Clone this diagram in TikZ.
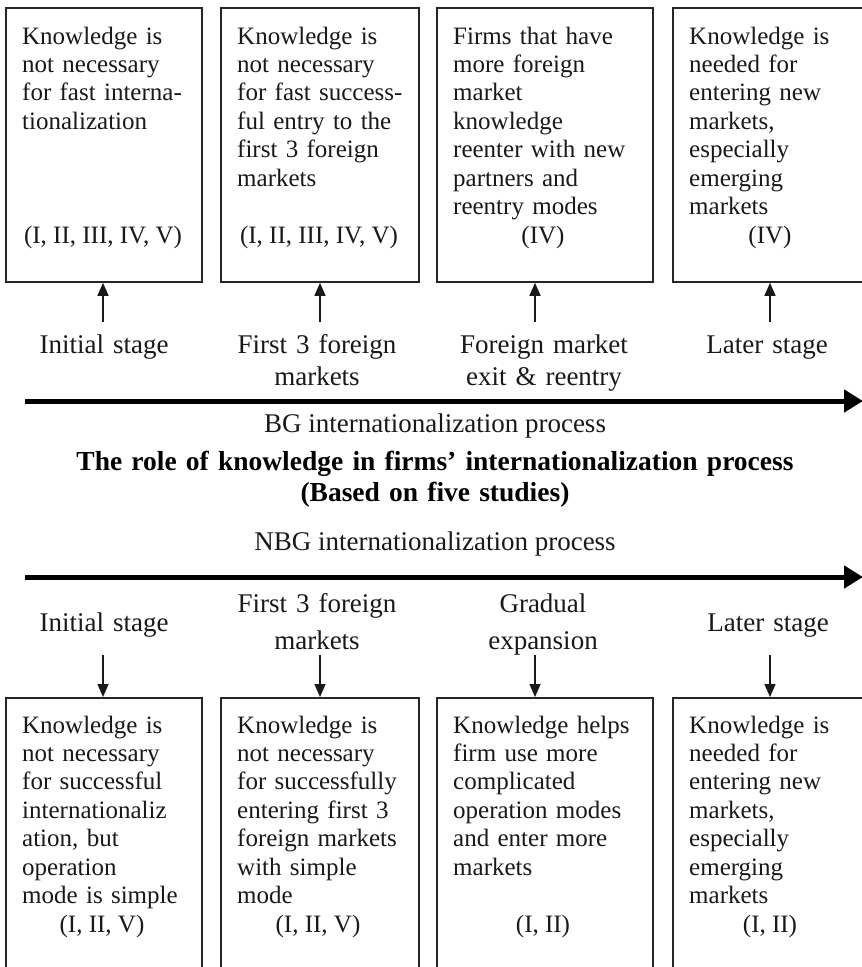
\documentclass[tikz,border=0pt]{standalone}
\usepackage{fontspec}
\setmainfont{Liberation Serif}
\usetikzlibrary{arrows.meta}

\tikzset{
  panel/.style={draw=black!85, line width=1.8pt, anchor=north west, inner sep=0pt},
  boxtext/.style={anchor=base west, inner sep=0pt, text width=205pt, align=left,
                  font=\fontsize{25}{28.4}\selectfont, text=black!90},
  cite/.style={anchor=base, inner sep=0pt, font=\fontsize{25}{28.4}\selectfont, text=black!90},
  stagetop/.style={anchor=base, inner sep=0pt, text width=220pt, align=center,
                   font=\fontsize{27}{32}\selectfont, text=black!90},
  stagebot/.style={anchor=base, inner sep=0pt, text width=220pt, align=center,
                   font=\fontsize{27}{37}\selectfont, text=black!90},
  caption/.style={anchor=base, inner sep=0pt, font=\fontsize{27}{31}\selectfont, text=black!90},
  headline/.style={anchor=base, inner sep=0pt, text width=800pt, align=center,
                   font=\fontsize{27.5}{31}\selectfont\bfseries, text=black},
  pointer/.style={line width=1.5pt, draw=black!90, -{Triangle[length=13pt,width=11pt]}},
  timeline/.style={line width=5pt, draw=black, -{Triangle[length=19pt,width=22pt]}},
}

\begin{document}
\begin{tikzpicture}[x=1pt, y=-1pt]
\useasboundingbox (0,0) rectangle (862,967);
\clip (0,0) rectangle (862,967);
\fill[white] (0,0) rectangle (862,967);

% ---------- born-global panels (top row) ----------
\node[panel, minimum width=196pt, minimum height=274pt] (tb1) at (5,7) {};
\node[panel, minimum width=198pt, minimum height=274pt] (tb2) at (220,7) {};
\node[panel, minimum width=216pt, minimum height=274pt] (tb3) at (436,7) {};
\node[panel, minimum width=198pt, minimum height=274pt] (tb4) at (672,7) {};

\node[boxtext] (tt1) at (22,44) {Knowledge is\\not necessary\\for fast interna-\\tionalization};
\node[boxtext] (tt2) at (237,44) {Knowledge is\\not necessary\\for fast success-\\ful entry to the\\first 3 foreign\\markets};
\node[boxtext] (tt3) at (453,44) {Firms that have\\more foreign\\market\\knowledge\\reenter with new\\partners and\\reentry modes};
\node[boxtext] (tt4) at (689,44) {Knowledge is\\needed for\\entering new\\markets,\\especially\\emerging\\markets};

\node[cite] (tc1) at (103,243) {(I, II, III, IV, V)};
\node[cite] (tc2) at (319,243) {(I, II, III, IV, V)};
\node[cite] (tc3) at (543,243) {(IV)};
\node[cite] (tc4) at (770,243) {(IV)};

% ---------- stage labels above the BG timeline ----------
\node[stagetop] (ts1) at (104,353) {Initial stage};
\node[stagetop] (ts2) at (317,353) {First 3 foreign\\markets};
\node[stagetop] (ts3) at (544,353) {Foreign market\\exit \& reentry};
\node[stagetop] (ts4) at (767,353) {Later stage};

\coordinate (ta1) at (103,322);
\coordinate (ta2) at (320,322);
\coordinate (ta3) at (535,322);
\coordinate (ta4) at (770,322);
\draw[pointer] (ta1) -- (ta1 |- tb1.south);
\draw[pointer] (ta2) -- (ta2 |- tb2.south);
\draw[pointer] (ta3) -- (ta3 |- tb3.south);
\draw[pointer] (ta4) -- (ta4 |- tb4.south);

% ---------- timelines and captions ----------
\coordinate (bgstart) at (25,401);
\coordinate (bgend) at (863,401);
\draw[timeline] (bgstart) -- (bgend);
\node[caption] (bgcap) at (435,432) {BG internationalization process};

\node[headline] (title) at (435,470) {The role of knowledge in firms’ internationalization process\\(Based on five studies)};

\node[caption] (nbgcap) at (435,550) {NBG internationalization process};
\coordinate (nbgstart) at (25,577);
\coordinate (nbgend) at (863,577);
\draw[timeline] (nbgstart) -- (nbgend);

% ---------- stage labels below the NBG timeline ----------
\node[stagebot] (bs1) at (104,631) {Initial stage};
\node[stagebot] (bs2) at (317,612) {First 3 foreign\\markets};
\node[stagebot] (bs3) at (543,612) {Gradual\\expansion};
\node[stagebot] (bs4) at (768,631) {Later stage};

% ---------- non-born-global panels (bottom row) ----------
\node[panel, minimum width=196pt, minimum height=300pt] (bb1) at (5,697) {};
\node[panel, minimum width=198pt, minimum height=300pt] (bb2) at (220,697) {};
\node[panel, minimum width=216pt, minimum height=300pt] (bb3) at (436,697) {};
\node[panel, minimum width=198pt, minimum height=300pt] (bb4) at (672,697) {};

\coordinate (ba1) at (103,655);
\coordinate (ba2) at (320,655);
\coordinate (ba3) at (535,655);
\coordinate (ba4) at (770,655);
\draw[pointer] (ba1) -- (ba1 |- bb1.north);
\draw[pointer] (ba2) -- (ba2 |- bb2.north);
\draw[pointer] (ba3) -- (ba3 |- bb3.north);
\draw[pointer] (ba4) -- (ba4 |- bb4.north);

\node[boxtext] (bt1) at (22,733) {Knowledge is\\not necessary\\for successful\\internationaliz\\ation, but\\operation\\mode is simple};
\node[boxtext] (bt2) at (237,733) {Knowledge is\\not necessary\\for successfully\\entering first 3\\foreign markets\\with simple\\mode};
\node[boxtext] (bt3) at (453,733) {Knowledge helps\\firm use more\\complicated\\operation modes\\and enter more\\markets};
\node[boxtext] (bt4) at (689,733) {Knowledge is\\needed for\\entering new\\markets,\\especially\\emerging\\markets};

\node[cite] (bc1) at (102,932) {(I, II, V)};
\node[cite] (bc2) at (318,932) {(I, II, V)};
\node[cite] (bc3) at (543,932) {(I, II)};
\node[cite] (bc4) at (770,932) {(I, II)};
\end{tikzpicture}
\end{document}
